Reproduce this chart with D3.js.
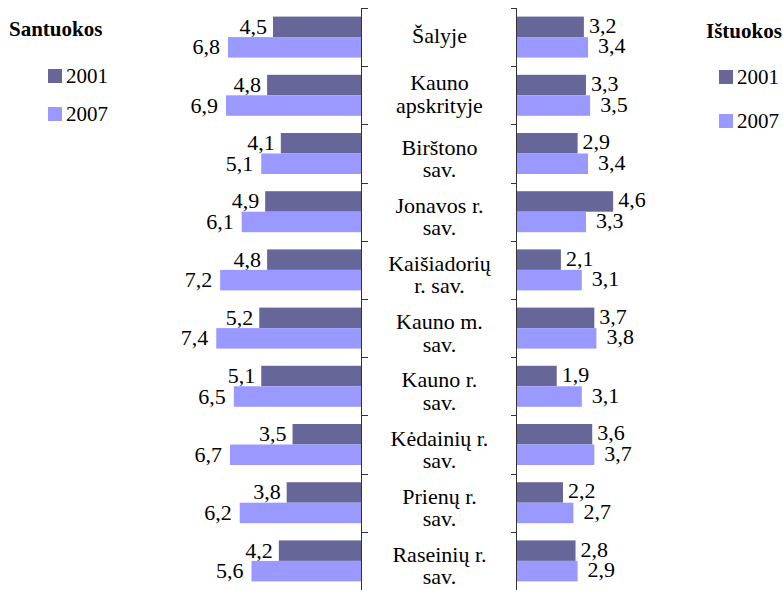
<!DOCTYPE html>
<html>
<head>
<meta charset="utf-8">
<script src="https://cdn.jsdelivr.net/npm/d3@7"></script>
<style>
  body { margin: 0; background: #fff; }
</style>
</head>
<body>
<svg id="chart"></svg>
<script>
/* data */
let categories = [
  ["Šalyje"], ["Kauno", "apskrityje"], ["Birštono", "sav."], ["Jonavos r.", "sav."],
  ["Kaišiadorių", "r. sav."], ["Kauno m.", "sav."], ["Kauno r.", "sav."],
  ["Kėdainių r.", "sav."], ["Prienų r.", "sav."], ["Raseinių r.", "sav."]
];
let years = ["2001", "2007"];
let santuokos2001 = [4.5, 4.8, 4.1, 4.9, 4.8, 5.2, 5.1, 3.5, 3.8, 4.2];
let santuokos2007 = [6.8, 6.9, 5.1, 6.1, 7.2, 7.4, 6.5, 6.7, 6.2, 5.6];
let istuokos2001 = [3.2, 3.3, 2.9, 4.6, 2.1, 3.7, 1.9, 3.6, 2.2, 2.8];
let istuokos2007 = [3.4, 3.5, 3.4, 3.3, 3.1, 3.8, 3.1, 3.7, 2.7, 2.9];

/* chart */
!(function() {
  let width = 783, height = 590;
  let fs = 22;
  let font = "'Liberation Serif'";
  let colors = ["#666699", "#9999ff"];

  let svg = d3.select("#chart")
    .attr("width", width)
    .attr("height", height);

  let y = d3.scaleBand()
    .domain(d3.range(categories.length))
    .range([8, 590]);
  let yInner = d3.scaleBand()
    .domain([0, 1])
    .range([0, y.bandwidth()])
    .paddingOuter(0.42);

  let leftAxisX = 361, rightAxisX = 517;
  let xl = d3.scaleLinear().domain([0, 8]).range([leftAxisX, leftAxisX - 8 * 19.56]);
  let xr = d3.scaleLinear().domain([0, 5]).range([rightAxisX, rightAxisX + 5 * 20.9]);

  let fmt = d => d.toFixed(1).replace(".", ",");

  let leftSeries = [santuokos2001, santuokos2007];
  let rightSeries = [istuokos2001, istuokos2007];

  // left bars
  leftSeries.forEach((vals, s) => {
    let g = svg.append("g");
    g.selectAll("rect")
      .data(vals)
      .enter().append("rect")
      .attr("x", d => xl(d))
      .attr("y", (d, i) => y(i) + yInner(s))
      .attr("width", d => xl(0) - xl(d))
      .attr("height", yInner.bandwidth())
      .style("fill", colors[s]);
    g.selectAll("text")
      .data(vals)
      .enter().append("text")
      .attr("x", d => xl(d) - (s == 0 ? 6 : 8))
      .attr("y", (d, i) => y(i) + yInner(s) + yInner.bandwidth() / 2 + 7)
      .attr("text-anchor", "end")
      .style("font-family", font)
      .style("font-size", fs + "px")
      .text(fmt);
  });

  // right bars
  rightSeries.forEach((vals, s) => {
    let g = svg.append("g");
    g.selectAll("rect")
      .data(vals)
      .enter().append("rect")
      .attr("x", xr(0))
      .attr("y", (d, i) => y(i) + yInner(s))
      .attr("width", d => xr(d) - xr(0))
      .attr("height", yInner.bandwidth())
      .style("fill", colors[s]);
    g.selectAll("text")
      .data(vals)
      .enter().append("text")
      .attr("x", d => xr(d) + (s == 0 ? 5 : 10))
      .attr("y", (d, i) => y(i) + yInner(s) + yInner.bandwidth() / 2 + 6)
      .style("font-family", font)
      .style("font-size", fs + "px")
      .text(fmt);
  });

  // axes
  let ticks = d3.range(categories.length + 1).map(i => i < categories.length ? y(i) : 590);
  let leftAx = svg.append("g").attr("stroke", "#333").attr("shape-rendering", "crispEdges");
  leftAx.append("line")
    .attr("x1", leftAxisX + 0.5).attr("x2", leftAxisX + 0.5)
    .attr("y1", 8).attr("y2", 590);
  leftAx.selectAll(".tick")
    .data(ticks)
    .enter().append("line")
    .attr("x1", leftAxisX).attr("x2", leftAxisX + 7)
    .attr("y1", d => Math.round(d) + 0.5).attr("y2", d => Math.round(d) + 0.5);

  let rightAx = svg.append("g").attr("stroke", "#333").attr("shape-rendering", "crispEdges");
  rightAx.append("line")
    .attr("x1", rightAxisX - 0.5).attr("x2", rightAxisX - 0.5)
    .attr("y1", 8).attr("y2", 590);
  rightAx.selectAll(".tick")
    .data(ticks)
    .enter().append("line")
    .attr("x1", rightAxisX - 6).attr("x2", rightAxisX)
    .attr("y1", d => Math.round(d) + 0.5).attr("y2", d => Math.round(d) + 0.5);

  // category labels
  let cx = (leftAxisX + rightAxisX) / 2 + 0.5;
  categories.forEach((lines, i) => {
    let mid = y(i) + y.bandwidth() / 2;
    let t = svg.append("text")
      .attr("text-anchor", "middle")
      .style("font-family", font)
      .style("font-size", fs + "px");
    let lh = 22.5;
    let start = lines.length == 1 ? mid + 6 : mid + 1 - (i == 1 ? 6 : 0);
    lines.forEach((l, k) => {
      t.append("tspan")
        .attr("x", cx)
        .attr("y", start + k * lh)
        .text(l);
    });
  });

  // legends
  function legend(x, title, tx, ty, rows) {
    let g = svg.append("g");
    g.append("text")
      .attr("x", tx).attr("y", ty)
      .style("font-family", font)
      .style("font-size", "21px")
      .style("font-weight", "bold")
      .text(title);
    years.forEach((yr, k) => {
      g.append("rect")
        .attr("x", x).attr("y", rows[k])
        .attr("width", 14).attr("height", 14)
        .style("fill", colors[k]);
      g.append("text")
        .attr("x", x + 18).attr("y", rows[k] + 14)
        .style("font-family", font)
        .style("font-size", "21px")
        .text(yr);
    });
  }
  legend(48, "Santuokos", 9, 36, [69, 107]);
  legend(719, "Ištuokos", 706, 38, [70, 114]);
})();
</script>
</body>
</html>
